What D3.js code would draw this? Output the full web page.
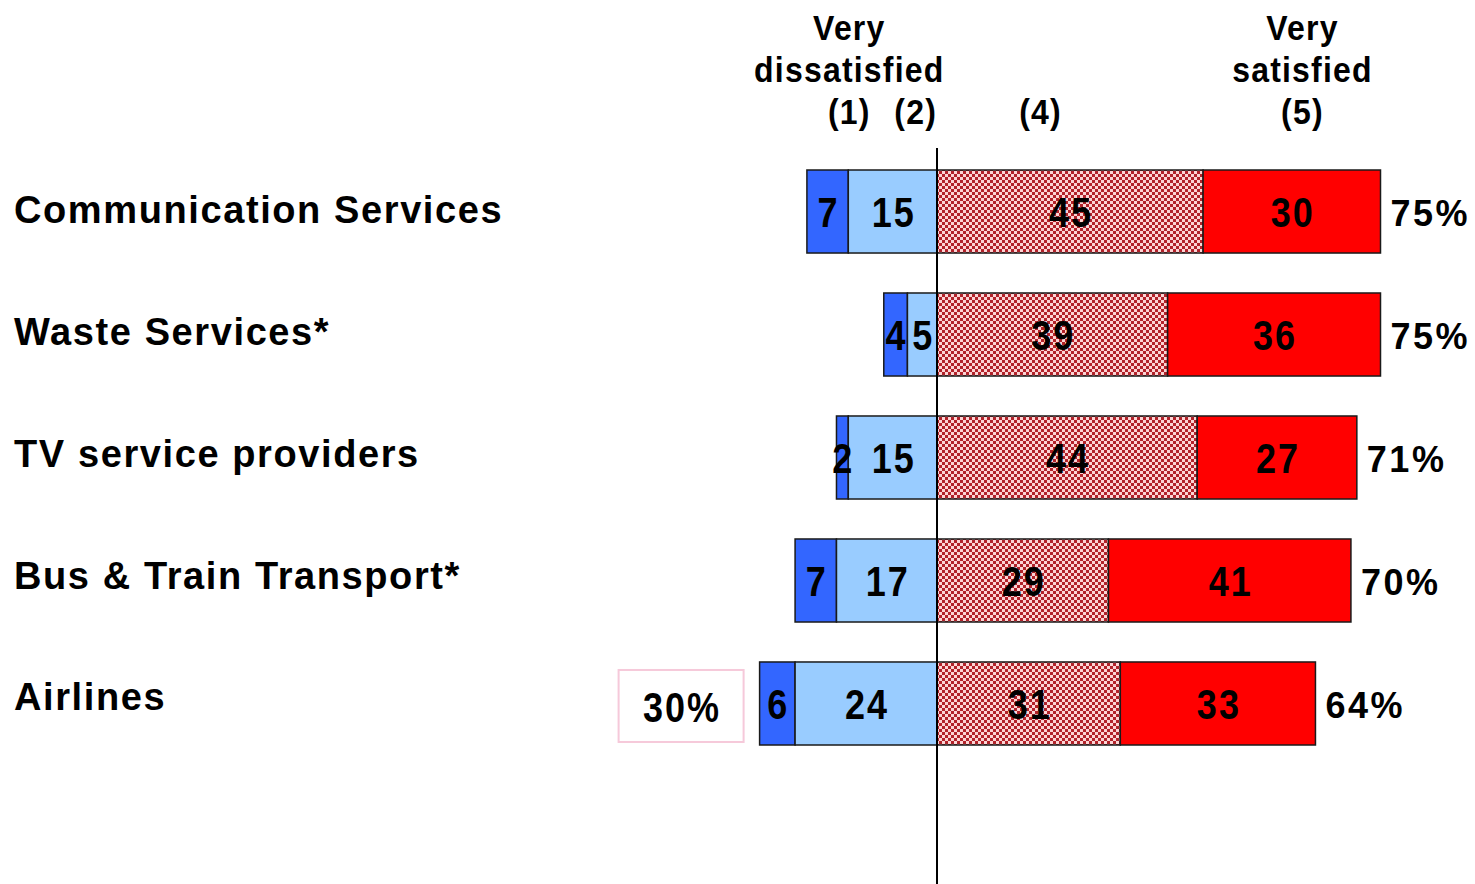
<!DOCTYPE html>
<html><head><meta charset="utf-8">
<script src="https://cdn.jsdelivr.net/npm/d3@7"></script>
<style>
html,body{margin:0;padding:0;background:#fff;}
svg text{font-family:"Liberation Sans",Arial,sans-serif;font-weight:bold;fill:#000;}
</style></head>
<body>
<svg id="c" width="1475" height="884"></svg>
<script>
const categories = ["Communication Services","Waste Services*","TV service providers","Bus & Train Transport*","Airlines"];
const veryDissatisfied = [7,4,2,7,6];
const dissatisfied = [15,5,15,17,24];
const satisfied = [45,39,44,29,31];
const verySatisfied = [30,36,27,41,33];
const totalSatisfied = ["75%","75%","71%","70%","64%"];
const totalDissatisfiedShown = [null,null,null,null,"30%"];
const headerLabels = [
  {key:"(1)", lines:["Very","dissatisfied","(1)"]},
  {key:"(2)", lines:["(2)"]},
  {key:"(4)", lines:["(4)"]},
  {key:"(5)", lines:["Very","satisfied","(5)"]}
];

const svg = d3.select("#c");
const defs = svg.append("defs");
const pat = defs.append("pattern").attr("id","chk").attr("patternUnits","userSpaceOnUse")
  .attr("width",6).attr("height",6);
pat.append("rect").attr("width",6).attr("height",6).attr("fill","#fcd4d4");
pat.append("rect").attr("width",3).attr("height",3).attr("fill","#b2222a");
pat.append("rect").attr("x",3).attr("y",3).attr("width",3).attr("height",3).attr("fill","#b2222a");

const x = d3.scaleLinear().domain([0,75]).range([937,1380.5]);
const y = d3.scaleBand().domain(categories).range([170,745]).paddingInner(0.325).paddingOuter(0);
const labelY = d3.scalePoint().domain(categories).range([210,697]);

function tallText(parent, cx, cy, txt, size, sy, anchor, ls){
  return parent.append("text")
    .attr("transform",`translate(${cx},${cy}) scale(1,${sy})`)
    .attr("dy","0.36em").attr("text-anchor",anchor)
    .attr("font-size",size).attr("letter-spacing",ls+"px").text(txt);
}

const rows = categories.map((c,i)=>{
  const segs = [
    {v:veryDissatisfied[i], x0:-(veryDissatisfied[i]+dissatisfied[i]), x1:-dissatisfied[i], fill:"#3366ff"},
    {v:dissatisfied[i], x0:-dissatisfied[i], x1:0, fill:"#99ccff"},
    {v:satisfied[i], x0:0, x1:satisfied[i], fill:"url(#chk)"},
    {v:verySatisfied[i], x0:satisfied[i], x1:satisfied[i]+verySatisfied[i], fill:"#ff0000"}
  ];
  return {c, i, segs};
});

// category labels
svg.append("g").selectAll("text").data(categories).join("text")
  .attr("x",14).attr("y",d=>labelY(d)).attr("dy","0.35em")
  .attr("font-size",38).attr("letter-spacing","1.6px")
  .text(d=>d);

// bars
const g = svg.append("g");
rows.forEach(r=>{
  const rg = g.append("g");
  rg.selectAll("rect").data(r.segs).join("rect")
    .attr("x",d=>x(d.x0)).attr("width",d=>x(d.x1)-x(d.x0))
    .attr("y",y(r.c)).attr("height",y.bandwidth())
    .attr("fill",d=>d.fill).attr("stroke","#1a1a1a").attr("stroke-width",1.5);
  const cy = y(r.c)+y.bandwidth()/2;
  r.segs.forEach(d=>{
    tallText(rg, (x(d.x0)+x(d.x1))/2 + 1, cy, d.v, 36, 1.17, "middle", 2);
  });
  const end = r.segs[3].x1;
  tallText(svg, x(end)+10, cy+2, totalSatisfied[r.i], 36, 1.0, "start", 2.5);
  if(totalDissatisfiedShown[r.i]){
    const left = x(r.segs[0].x0);
    const bx = left-141, bw=125, by=y(r.c)+8, bh=72;
    svg.append("rect").attr("x",bx).attr("y",by).attr("width",bw).attr("height",bh)
      .attr("fill","#fff").attr("stroke","#f6c9da").attr("stroke-width",2);
    tallText(svg, bx+bw/2+1, by+bh/2+1, totalDissatisfiedShown[r.i], 36, 1.17, "middle", 2);
  }
});

// zero line
svg.append("line").attr("x1",x(0)).attr("x2",x(0)).attr("y1",148).attr("y2",884)
  .attr("stroke","#000").attr("stroke-width",2);

// headers
const hx = {"(1)":x(-15)+1, "(2)":x(-3.6), "(4)":x(17.5), "(5)":x(61.8)};
headerLabels.forEach(h=>{
  const n = h.lines.length;
  h.lines.forEach((ln,j)=>{
    svg.append("text")
      .attr("transform",`translate(${hx[h.key]},${124-(n-1-j)*42}) scale(1,1.1)`)
      .attr("text-anchor","middle").attr("font-size",32).attr("letter-spacing","1.2px")
      .text(ln);
  });
});
</script>
</body></html>
